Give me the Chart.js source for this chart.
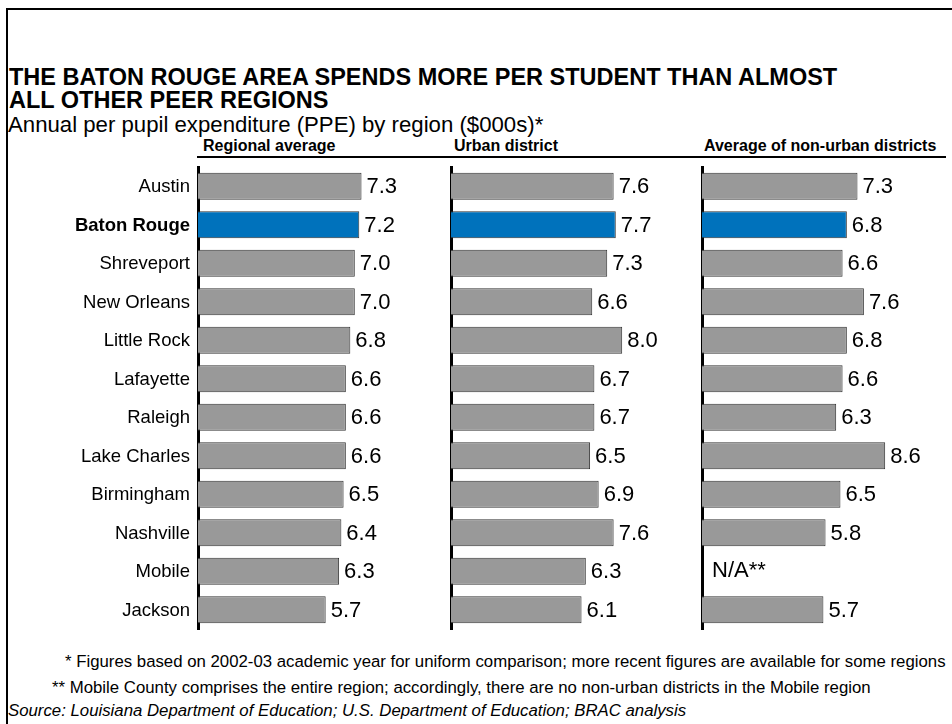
<!DOCTYPE html>
<html>
<head>
<meta charset="utf-8">
<script src="https://cdn.jsdelivr.net/npm/chart.js@4.4.1/dist/chart.umd.min.js"></script>
<style>
  body { margin: 0; background: #fff; font-family: "Liberation Sans", Arial, sans-serif; }
  #page { position: relative; width: 952px; height: 724px; overflow: hidden; }
  #frame { position: absolute; left: 6px; top: 8px; width: 960px; height: 760px;
           border-top: 2px solid #000; border-left: 2px solid #000; }
  .txt { position: absolute; white-space: nowrap; color: #000; }
  #title { left: 9px; top: 66px; font-size: 23.5px; font-weight: bold; line-height: 23px; }
  #subtitle { left: 8px; top: 112px; font-size: 22.2px; line-height: 25px; }
  .head { top: 136px; font-size: 16px; font-weight: bold; line-height: 19px; }
  #headline { position: absolute; left: 197px; top: 156px; width: 749px; height: 2px; background: #000; }
  .note { font-size: 16.8px; line-height: 19px; }
  canvas { position: absolute; }
</style>
</head>
<body>
<div id="page">
  <div id="frame"></div>
  <div class="txt" id="title">THE BATON ROUGE AREA SPENDS MORE PER STUDENT THAN ALMOST<br>ALL OTHER PEER REGIONS</div>
  <div class="txt" id="subtitle">Annual per pupil expenditure (PPE) by region ($000s)*</div>
  <div class="txt head" style="left:203px">Regional average</div>
  <div class="txt head" style="left:454px">Urban district</div>
  <div class="txt head" style="left:704px">Average of non-urban districts</div>
  <div id="headline"></div>

  <div style="position:absolute;left:0;top:163px;width:440px;height:470px"><canvas id="c1"></canvas></div>
  <div style="position:absolute;left:441px;top:163px;width:240px;height:470px"><canvas id="c2"></canvas></div>
  <div style="position:absolute;left:692px;top:163px;width:255px;height:470px"><canvas id="c3"></canvas></div>

  <div class="txt note" style="left:65px;top:652px">* Figures based on 2002-03 academic year for uniform comparison; more recent figures are available for some regions</div>
  <div class="txt note" style="left:52px;top:678px">** Mobile County comprises the entire region; accordingly, there are no non-urban districts in the Mobile region</div>
  <div class="txt note" style="left:8px;top:701px;font-style:italic">Source: Louisiana Department of Education; U.S. Department of Education; BRAC analysis</div>
</div>

<script>
const regions = ['Austin', 'Baton Rouge', 'Shreveport', 'New Orleans', 'Little Rock', 'Lafayette',
  'Raleigh', 'Lake Charles', 'Birmingham', 'Nashville', 'Mobile', 'Jackson'];
const regionalAverage = [7.3, 7.2, 7.0, 7.0, 6.8, 6.6, 6.6, 6.6, 6.5, 6.4, 6.3, 5.7];
const urbanDistrict = [7.6, 7.7, 7.3, 6.6, 8.0, 6.7, 6.7, 6.5, 6.9, 7.6, 6.3, 6.1];
const nonUrbanAverage = [7.3, 6.8, 6.6, 7.6, 6.8, 6.6, 6.3, 8.6, 6.5, 5.8, null, 5.7];
const highlight = 'Baton Rouge';

const GRAY = '#999999';
const BLUE = '#0072BC';
const FONT = '"Liberation Sans", Arial, sans-serif';

// values (or N/A**) right of each bar, region names left of the first panel
const barText = {
  id: 'barText',
  afterDatasetsDraw(chart, args, opts) {
    const ctx = chart.ctx;
    const meta = chart.getDatasetMeta(0);
    const data = chart.data.datasets[0].data;
    const xScale = chart.scales.x;
    const yScale = chart.scales.y;
    ctx.save();
    ctx.fillStyle = '#000';
    ctx.textBaseline = 'middle';
    ctx.font = '22px ' + FONT;
    meta.data.forEach((bar, i) => {
      if (data[i] === null) {
        ctx.fillText('N/A**', xScale.getPixelForValue(0) + 10, bar.y);
      } else {
        ctx.fillText(data[i].toFixed(1), bar.x + 5, bar.y + 1);
      }
    });
    if (opts.names) {
      ctx.textAlign = 'right';
      regions.forEach((r, i) => {
        ctx.font = (r === highlight ? 'bold ' : '') + '18.5px ' + FONT;
        ctx.fillText(r, chart.chartArea.left - 8, yScale.getPixelForValue(i) + 1);
      });
    }
    ctx.restore();
  }
};

function makeChart(id, values, xMax, axisWidth, names) {
  return new Chart(document.getElementById(id), {
    type: 'bar',
    data: {
      labels: regions,
      datasets: [{
        data: values,
        backgroundColor: regions.map(r => r === highlight ? BLUE : GRAY),
        borderColor: '#333333',
        borderWidth: 1,
        barPercentage: 0.7,
        categoryPercentage: 1.0
      }]
    },
    options: {
      indexAxis: 'y',
      responsive: true,
      maintainAspectRatio: false,
      animation: false,
      layout: { padding: { top: 4, bottom: 4, left: 0, right: 0 } },
      plugins: {
        legend: { display: false },
        tooltip: { enabled: false },
        barText: { names: names }
      },
      scales: {
        x: { display: false, min: 0, max: xMax },
        y: {
          afterFit(scale) { scale.width = axisWidth; },
          grid: { display: false },
          border: { display: true, color: '#000', width: 3 },
          ticks: { display: false }
        }
      }
    },
    plugins: [barText]
  });
}

makeChart('c1', regionalAverage, 242 / 22.4, 198, true);
makeChart('c2', urbanDistrict, 230 / 21.4, 10, false);
makeChart('c3', nonUrbanAverage, 245 / 21.3, 10, false);
</script>
</body>
</html>
